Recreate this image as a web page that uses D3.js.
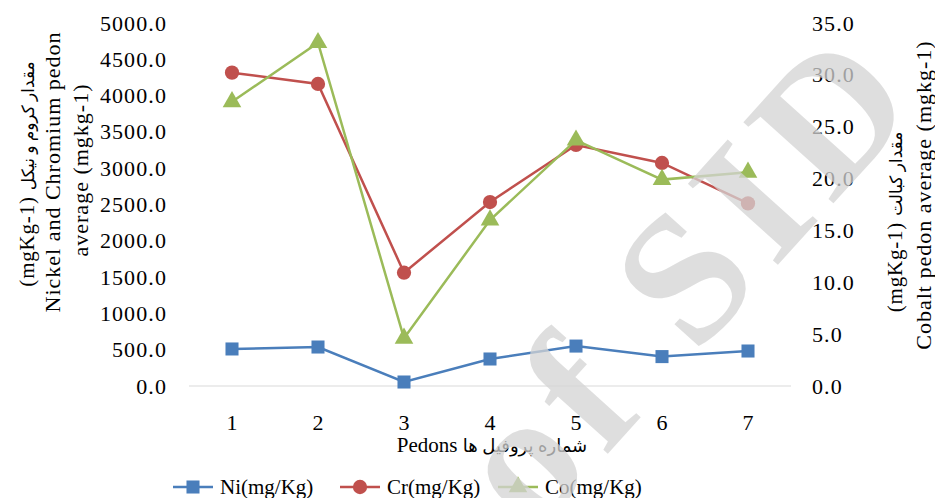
<!DOCTYPE html>
<html>
<head>
<meta charset="utf-8">
<script src="https://cdn.jsdelivr.net/npm/d3@7"></script>
<style>
  body { margin: 0; background: #fff; }
  svg text { font-family: 'Liberation Serif', 'Times New Roman', 'DejaVu Sans', serif; }
</style>
</head>
<body>
<svg width="935" height="498"></svg>
<script>
// Data
var pedons = ["1", "2", "3", "4", "5", "6", "7"];
var ni = [510, 537, 55, 372, 550, 405, 482];
var cr = [4316, 4160, 1561, 2534, 3320, 3072, 2515];
var co = [27.4, 33.1, 4.6, 16.0, 23.7, 19.9, 20.6];
var leftTicks = [0, 500, 1000, 1500, 2000, 2500, 3000, 3500, 4000, 4500, 5000];
var rightTicks = [0, 5, 10, 15, 20, 25, 30, 35];
var seriesNames = ["Ni(mg/Kg)", "Cr(mg/Kg)", "Co(mg/Kg)"];

var margin = {top: 23, right: 144, bottom: 112, left: 189},
    width = 935 - margin.left - margin.right,
    height = 498 - margin.top - margin.bottom;

var svg = d3.select("svg");
var g = svg.append("g")
    .attr("transform", "translate(" + margin.left + "," + margin.top + ")");

// Scales
var x = d3.scaleBand().domain(pedons).range([0, width]);
var yL = d3.scaleLinear().domain([0, 5000]).range([height, 0]);
var yR = d3.scaleLinear().domain([0, 35]).range([height, 0]);
var fmt = d3.format(".1f");

// baseline
g.append("line")
    .attr("x1", 0).attr("x2", width)
    .attr("y1", yL(0)).attr("y2", yL(0))
    .attr("stroke", "#d9d9d9").attr("stroke-width", 1.2);

// left axis
var axL = g.append("g").call(d3.axisLeft(yL).tickValues(leftTicks).tickFormat(fmt).tickSize(0).tickPadding(22));
axL.select(".domain").remove();
axL.selectAll("text").attr("font-size", 22).attr("letter-spacing", 1.1).attr("fill", "#000");

// right axis
var axR = g.append("g").attr("transform", "translate(" + width + ",0)")
    .call(d3.axisRight(yR).tickValues(rightTicks).tickFormat(fmt).tickSize(0).tickPadding(21));
axR.select(".domain").remove();
axR.selectAll("text").attr("font-size", 22).attr("letter-spacing", 1.1).attr("fill", "#000");

// x axis
var axX = g.append("g").attr("transform", "translate(0," + height + ")")
    .call(d3.axisBottom(x).tickSize(0).tickPadding(28));
axX.select(".domain").remove();
axX.selectAll("text").attr("font-size", 22).attr("fill", "#000");

// series
var series = [
  {vals: ni, y: yL, color: "#4a7ebb", sym: d3.symbolSquare, size: 170},
  {vals: cr, y: yL, color: "#c0504d", sym: d3.symbolCircle, size: 160},
  {vals: co, y: yR, color: "#9bbb59", sym: d3.symbolTriangle, size: 150}
];

series.forEach(function(s) {
  var line = d3.line()
      .x(function(d, i) { return x(pedons[i]) + x.bandwidth() / 2; })
      .y(function(d) { return s.y(d); });
  g.append("path")
      .datum(s.vals)
      .attr("d", line)
      .attr("fill", "none")
      .attr("stroke", s.color)
      .attr("stroke-width", 2.5);
  g.selectAll(null)
      .data(s.vals)
      .join("path")
      .attr("d", d3.symbol().type(s.sym).size(s.size))
      .attr("transform", function(d, i) {
        return "translate(" + (x(pedons[i]) + x.bandwidth() / 2) + "," + s.y(d) + ")";
      })
      .attr("fill", s.color);
});

// axis titles (latin part + smaller persian part)
function vtext(cx, cy, txt, fa, size, ls) {
  var t = svg.append("text")
      .attr("transform", "translate(" + cx + "," + cy + ") rotate(-90)")
      .attr("text-anchor", "middle")
      .attr("font-size", size)
      .attr("letter-spacing", ls)
      .attr("fill", "#000");
  t.append("tspan").text(txt);
  if (fa) t.append("tspan").attr("font-size", 17).attr("letter-spacing", 0).text(fa);
}
vtext(34, 174, "(mgKg-1)\u200E ", "مقدار کروم و نیکل", 21, 0.8);
vtext(60, 172, "Nickel and Chromium pedon", null, 22, 1);
vtext(88, 170, "average (mgkg-1)", null, 22, 1);
vtext(902, 222, "(mgKg-1)\u200E ", "مقدار کبالت", 21, 0.8);
vtext(931, 195, "Cobalt pedon average (mgkg-1)", null, 22, 1);

var xt = svg.append("text")
    .attr("x", 492).attr("y", 452)
    .attr("text-anchor", "middle")
    .attr("font-size", 21)
    .attr("fill", "#000");
xt.append("tspan").text("Pedons  ");
xt.append("tspan").attr("font-size", 18).text("شماره پروفیل ها");

// legend
var legX = [173, 340, 498];
var leg = svg.append("g");
series.forEach(function(s, i) {
  var lg = leg.append("g").attr("transform", "translate(" + legX[i] + ",487)");
  lg.append("line").attr("x1", 0).attr("x2", 40)
      .attr("stroke", s.color).attr("stroke-width", 2.5);
  lg.append("path")
      .attr("d", d3.symbol().type(s.sym).size(s.size))
      .attr("transform", "translate(20,0)")
      .attr("fill", s.color);
  lg.append("text").attr("x", 47).attr("y", 7)
      .attr("font-size", 21)
      .attr("fill", "#000")
      .text(seriesNames[i]);
});

// watermark
svg.append("text")
    .attr("transform", "translate(930,96) rotate(-48)")
    .attr("text-anchor", "end")
    .attr("font-size", 185)
    .attr("font-weight", "bold")
    .attr("letter-spacing", 14)
    .attr("fill", "#d4d4d4")
    .attr("opacity", 0.75)
    .text("Archive of SID");
</script>
</body>
</html>
